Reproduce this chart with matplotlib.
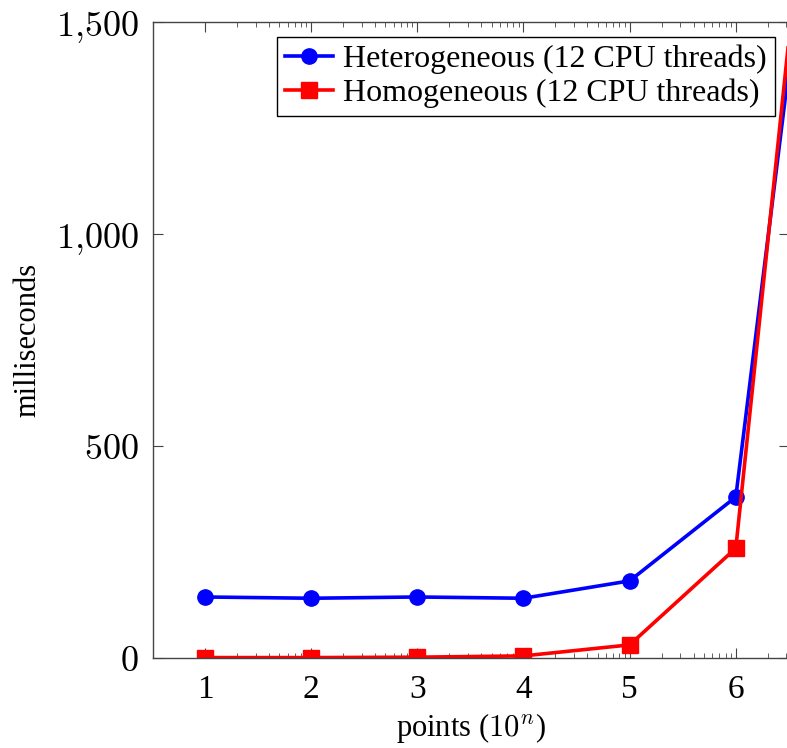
import matplotlib
matplotlib.use("Agg")
import matplotlib.pyplot as plt
from matplotlib.ticker import FixedLocator, NullFormatter

# data: x = 10^n points, y = milliseconds
n = [1, 2, 3, 4, 5, 6, 7]
hetero_ms = [144, 141, 144, 141, 182, 380, 2400]
homo_ms = [1, 1, 2, 5, 31, 259, 2660]
hetero_label = "Heterogeneous (12 CPU threads)"
homo_label = "Homogeneous (12 CPU threads)"
yticks = [0, 500, 1000, 1500]
ytick_labels = [r"$0$", r"$500$", r"$1{,}000$", r"$1{,}500$"]

plt.rcParams["mathtext.fontset"] = "cm"
plt.rcParams["font.family"] = "Liberation Serif"

fig = plt.figure(figsize=(7.87, 7.48), dpi=100)
ax = fig.add_axes([0.1944, 0.1203, 0.808, 0.850])

x = [10.0 ** k for k in n]
ax.plot(x, hetero_ms, color="blue", lw=2.6, marker="o", ms=11,
        label=hetero_label)
ax.plot(x, homo_ms, color="red", lw=2.6, marker="s", ms=11,
        label=homo_label)

ax.set_xscale("log")
ax.set_xlim(10 ** 0.51, 10 ** 6.5)
ax.set_ylim(0, 1500)

ax.xaxis.set_major_locator(FixedLocator([10.0 ** k for k in n[:6]]))
ax.set_xticklabels([str(k) for k in n[:6]])
minor = [s * 10.0 ** k for k in n[:6] for s in range(2, 10)]
ax.xaxis.set_minor_locator(FixedLocator(minor))
ax.xaxis.set_minor_formatter(NullFormatter())
ax.set_yticks(yticks)
ax.set_yticklabels(ytick_labels)

ax.tick_params(axis="both", which="both", direction="in", top=True, right=True,
               color="#444444")
ax.tick_params(axis="x", which="major", length=7, labelsize=24, pad=12)
ax.tick_params(axis="x", which="minor", length=3.8)
ax.tick_params(axis="y", which="major", length=7, labelsize=26, pad=10)
for s in ax.spines.values():
    s.set_color("#444444")
    s.set_linewidth(1.0)

ax.set_xlabel(r"points ($10^n$)", fontsize=22, labelpad=4)
ax.set_ylabel("milliseconds", fontsize=22, labelpad=10)

leg = ax.legend(loc="upper right", fontsize=23, frameon=True, fancybox=False,
                edgecolor="black", framealpha=1, borderaxespad=0.45,
                handlelength=1.5, handletextpad=0.3, borderpad=0.25,
                labelspacing=0.15)
leg.get_frame().set_linewidth(1.0)

fig.savefig("out.png", dpi=100)
